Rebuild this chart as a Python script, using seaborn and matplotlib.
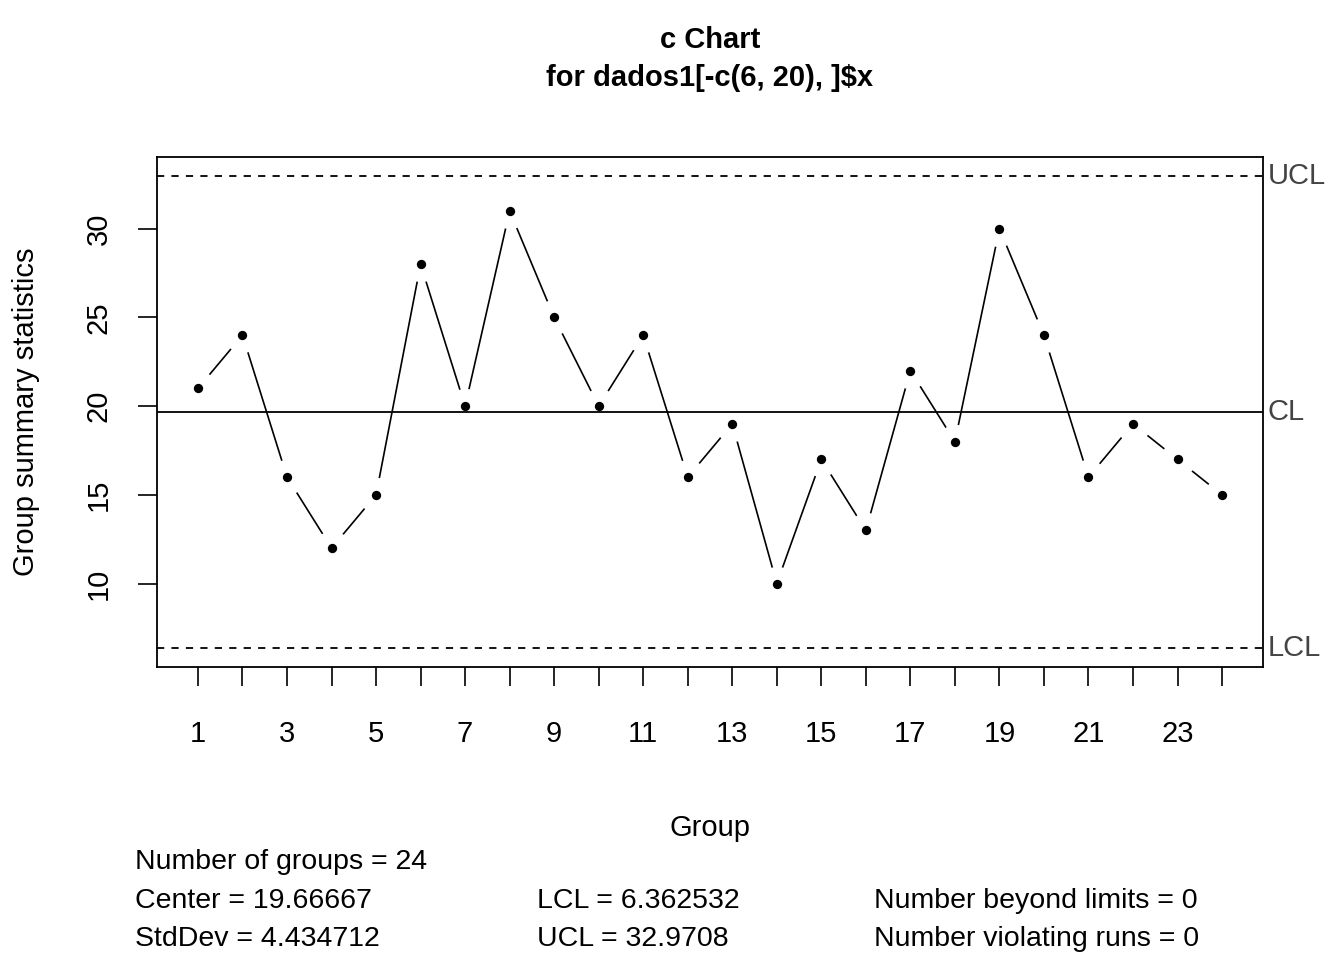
import matplotlib
matplotlib.use("Agg")
import matplotlib.pyplot as plt
import seaborn as sns
import numpy as np
import pandas as pd

groups = list(range(1, 25))
values = [21,24,16,12,15,28,20,31,25,20,24,16,19,10,17,13,22,18,30,24,16,19,17,15]
center = 19.66667
lcl = 6.362532
ucl = 32.9708
stddev = 4.434712

sns.set_theme(style="white")
plt.rcParams['font.family'] = ['Liberation Sans', 'DejaVu Sans']
plt.rcParams['text.color'] = 'black'
plt.rcParams['axes.labelcolor'] = 'black'
plt.rcParams['xtick.color'] = 'black'
plt.rcParams['ytick.color'] = 'black'

df = pd.DataFrame({"g": groups, "v": values})
fig = plt.figure(figsize=(13.44, 9.6), dpi=100)
ax = fig.add_axes([157/1344, 1-667/960, (1263-157)/1344, (667-157)/960])

sns.lineplot(data=df, x="g", y="v", ax=ax, color="black", lw=1.2, zorder=2)
ax.scatter(df.g, df.v, s=650, color="white", zorder=3, linewidths=0)
ax.scatter(df.g, df.v, s=45, color="black", zorder=5, linewidths=0)

ax.axhline(center, color="black", lw=1.3, zorder=4)
ax.axhline(ucl, color="black", lw=1.3, ls=(0, (4, 4)), zorder=4)
ax.axhline(lcl, color="black", lw=1.3, ls=(0, (4, 4)), zorder=4)
for yv, lab in [(ucl, "UCL"), (center, "CL"), (lcl, "LCL")]:
    ax.text(1.004, yv, lab, transform=ax.get_yaxis_transform(), va="center", ha="left",
            fontsize=21, color="#444444")

ax.set_xlim(0.08, 24.92)
ax.set_ylim(5.30, 34.04)
ax.set_xticks(groups)
ax.set_xticklabels([str(g) if g % 2 == 1 else "" for g in groups], fontsize=21)
ax.set_yticks([10, 15, 20, 25, 30])
ax.set_yticklabels(["10", "15", "20", "25", "30"], fontsize=21, rotation=90, va="center")
ax.tick_params(axis="x", direction="out", length=14, width=1.2, bottom=True, pad=24)
ax.tick_params(axis="y", direction="out", length=14, width=1.2, left=True, pad=18)
for s in ax.spines.values():
    s.set_color("black"); s.set_linewidth(1.3)
ax.set_xlabel("Group", fontsize=21, labelpad=48)
ax.set_ylabel("Group summary statistics", fontsize=21, labelpad=32)

fig.text(710/1344, 1-40/960, "c Chart", ha="center", va="center", fontsize=21, fontweight="bold")
fig.text(710/1344, 1-78/960, "for dados1[-c(6, 20), ]$x", ha="center", va="center", fontsize=21, fontweight="bold")

fs = 20.5
def t(x, y, s):
    fig.text(x/1344, 1-y/960, s, ha="left", va="center", fontsize=fs)
t(135, 862, "Number of groups = 24")
t(135, 901, f"Center = {center}")
t(135, 939, f"StdDev = {stddev}")
t(537, 901, f"LCL = {lcl}")
t(537, 939, f"UCL = {ucl}")
t(874, 901, "Number beyond limits = 0")
t(874, 939, "Number violating runs = 0")

fig.savefig("out.png", dpi=100)
